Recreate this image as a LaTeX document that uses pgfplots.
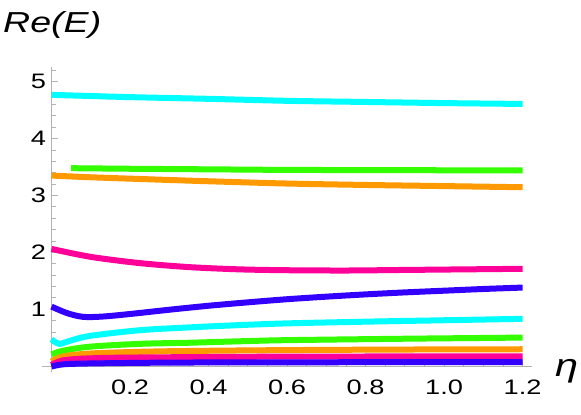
\documentclass[border=0pt]{standalone}
\usepackage{fontspec}
\setmainfont{Liberation Sans}
\usepackage{graphicx}
\usepackage{pgfplots}
\pgfplotsset{compat=1.18}
\definecolor{mcyan}{RGB}{0,255,255}
\definecolor{mgreen}{RGB}{51,255,0}
\definecolor{morange}{RGB}{255,153,0}
\definecolor{mmagenta}{RGB}{255,0,153}
\definecolor{mblue}{RGB}{51,0,255}
\newcommand{\tl}[1]{\scalebox{1.3}[1]{\fontsize{21}{25}\selectfont #1}}
\begin{document}
\begin{tikzpicture}
\begin{axis}[
  scale only axis, width=490.3bp, height=304.7bp,
  xmin=-0.025, xmax=1.224, ymin=-0.1, ymax=5.26,
  axis lines=middle,
  axis line style={-, draw=gray!60, line width=1bp},
  xtick={0.2,0.4,0.6,0.8,1.0,1.2},
  xticklabels={\tl{0.2},\tl{0.4},\tl{0.6},\tl{0.8},\tl{1.0},\tl{1.2}},
  ytick={1,2,3,4,5},
  yticklabels={\tl{1},\tl{2},\tl{3},\tl{4},\tl{5}},
  minor xtick={0.05,0.1,0.15,0.25,0.3,0.35,0.45,0.5,0.55,0.65,0.7,0.75,0.85,0.9,0.95,1.05,1.1,1.15},
  minor ytick={0.2,0.4,0.6,0.8,1.2,1.4,1.6,1.8,2.2,2.4,2.6,2.8,3.2,3.4,3.6,3.8,4.2,4.4,4.6,4.8,5.2},
  tick align=inside,
  major tick length=6bp, minor tick length=4bp,
  every tick/.style={draw=gray!60, line width=0.8bp},
  xticklabel style={anchor=north, yshift=-10bp},
  yticklabel style={anchor=east, xshift=-2bp},
  clip=false,
  every axis plot/.append style={line width=6bp, line cap=butt, smooth, tension=0.5},
]
\addplot[mcyan] coordinates {(0,4.77) (0.2,4.73) (0.4,4.70) (0.6,4.665) (0.8,4.645) (1.0,4.625) (1.2,4.61)};
\addplot[mgreen] coordinates {(0.05,3.48) (0.2,3.47) (0.4,3.46) (0.6,3.45) (0.9,3.445) (1.2,3.44)};
\addplot[morange] coordinates {(0,3.35) (0.1,3.32) (0.225,3.29) (0.4,3.25) (0.6,3.21) (0.8,3.185) (1.0,3.165) (1.2,3.145)};
\addplot[mmagenta] coordinates {(0,2.06) (0.1,1.92) (0.225,1.81) (0.35,1.74) (0.48,1.70) (0.6,1.685) (0.75,1.68) (0.9,1.69) (1.05,1.70) (1.2,1.71)};
\addplot[mblue] coordinates {(0,1.045) (0.04,0.93) (0.08,0.865) (0.13,0.87) (0.2,0.915) (0.3,0.99) (0.4,1.06) (0.5,1.12) (0.6,1.175) (0.7,1.22) (0.8,1.26) (0.9,1.295) (1.0,1.325) (1.1,1.355) (1.2,1.38)};
\addplot[mcyan] coordinates {(0,0.47) (0.02,0.39) (0.05,0.45) (0.098,0.53) (0.225,0.63) (0.353,0.68) (0.48,0.72) (0.6,0.75) (0.8,0.78) (1.0,0.805) (1.2,0.83)};
\addplot[mgreen] coordinates {(0,0.205) (0.03,0.27) (0.098,0.34) (0.225,0.39) (0.353,0.41) (0.48,0.435) (0.6,0.455) (0.9,0.48) (1.2,0.50)};
\addplot[morange] coordinates {(0,0.08) (0.03,0.17) (0.098,0.22) (0.225,0.25) (0.353,0.265) (0.6,0.28) (0.9,0.29) (1.2,0.295)};
\addplot[mmagenta] coordinates {(0,0.02) (0.03,0.10) (0.098,0.135) (0.225,0.15) (0.6,0.165) (1.2,0.17)};
\addplot[mblue] coordinates {(0,-0.01) (0.03,0.03) (0.098,0.045) (0.3,0.06) (0.6,0.065) (1.2,0.07)};
\end{axis}
\node[anchor=base west, inner sep=0pt] at (-38.7bp,338.7bp) {\scalebox{1.3}[1]{\fontsize{29}{34}\selectfont\itshape Re(E)}};
\node[anchor=base west, inner sep=0pt] at (513.3bp,-4.3bp) {\scalebox{1.3}[1]{\fontsize{32}{38}\selectfont\itshape η}};
\pgfresetboundingbox
\path[use as bounding box] (-41.7bp,-43.3bp) rectangle (539.3bp,371.7bp);
\end{tikzpicture}
\end{document}
